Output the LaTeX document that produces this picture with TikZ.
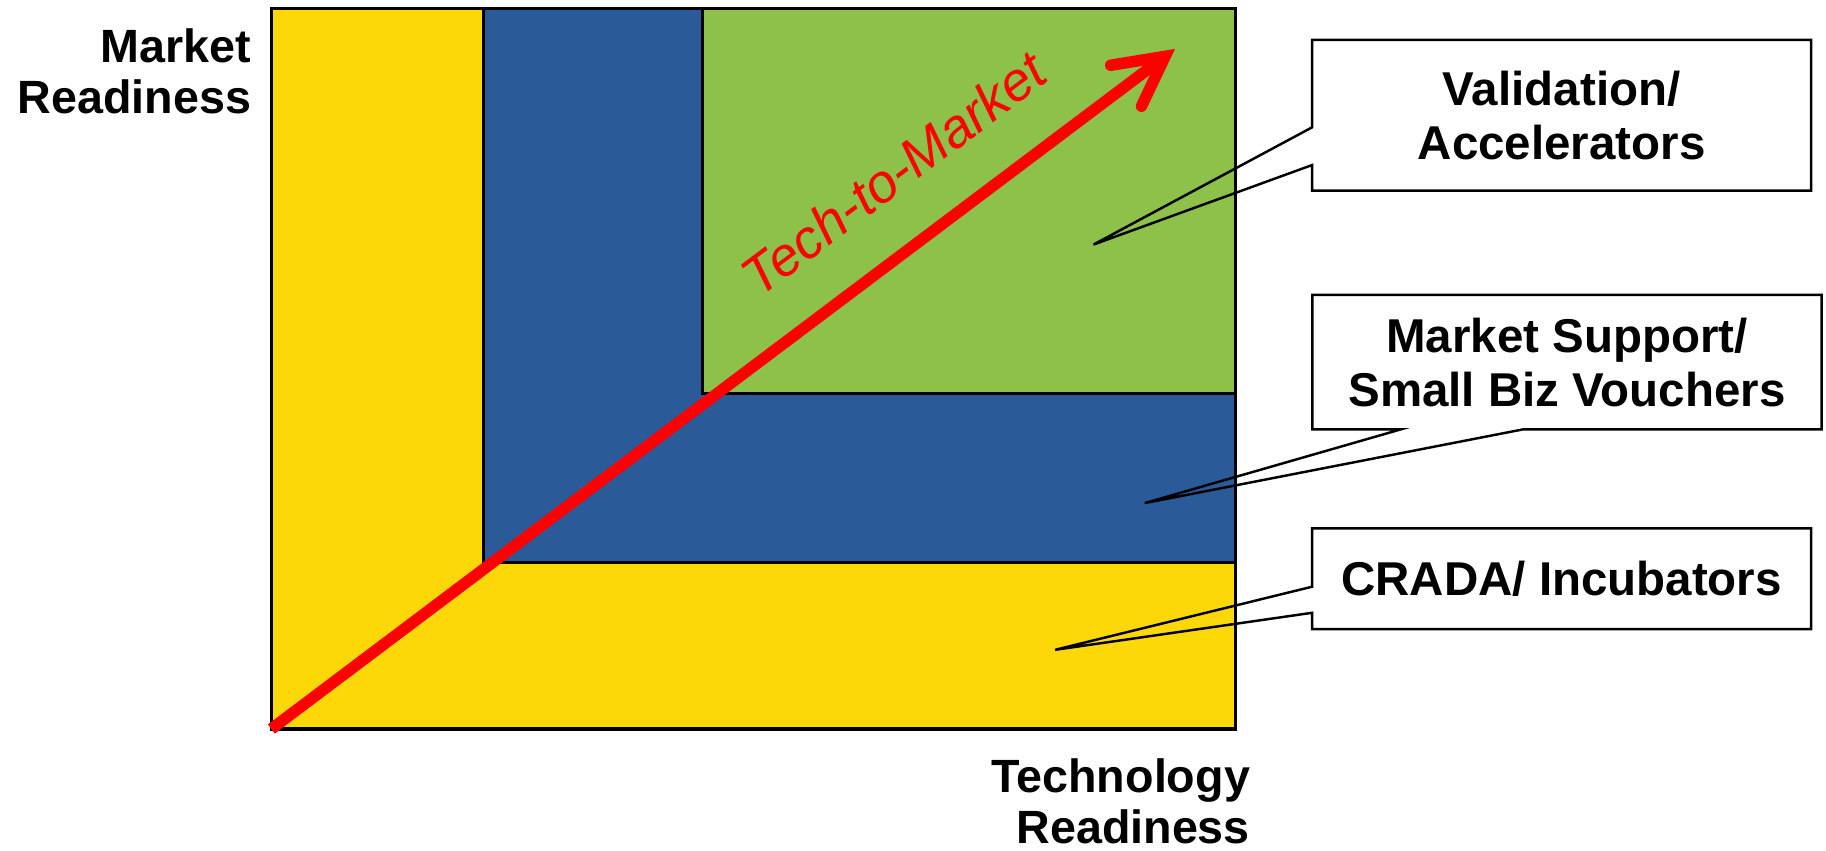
\documentclass[tikz,border=0pt]{standalone}
\usepackage{fontspec}
\setmainfont{Liberation Sans}
\usetikzlibrary{arrows.meta}

\definecolor{zoneyellow}{RGB}{253,216,8}
\definecolor{zoneblue}{RGB}{43,90,152}
\definecolor{zonegreen}{RGB}{141,193,74}

\begin{document}
\begin{tikzpicture}[x=0.1mm, y=-0.1mm,
        zone/.style = {draw=black, line width=0.8pt},
        axislabel/.style = {font=\fontsize{11.4}{12.5}\selectfont\bfseries,
                            align=right, inner sep=0pt, anchor=east},
        calloutbox/.style = {minimum width=42.7mm, inner sep=0pt, align=center,
                             font=\fontsize{11.6}{13.2}\selectfont\bfseries},
        callout/.style = {draw=black, line width=0.6pt},
        techarrow/.style = {draw=red, line width=2.8pt,
                            -{Straight Barb[length=4.2mm, width=4.4mm, line cap=round, line join=miter]}},
    ]
    \useasboundingbox (0,0) rectangle (1568,730);

    % readiness zones
    \coordinate (origin) at (233,626);
    \coordinate (corner) at (1061,7);
    \draw[zone, fill=zoneyellow] (origin) rectangle (corner);
    \draw[zone, fill=zoneblue] (415,483) rectangle (corner);
    \draw[zone, fill=zonegreen] (603,338) rectangle (corner);

    \coordinate (goal) at (1009,42);
    \draw[techarrow] (origin) -- (goal)
        node[pos=0.735, sloped, above=2.6mm, text=red,
             font=\fontsize{13.3}{15}\selectfont\itshape] (ttm) {Tech-to-Market};

    \node[axislabel] (mkt) at (216.5,61) {Market\\Readiness};
    \node[axislabel] (tech) at (1074,688) {Technology\\Readiness};

    % callouts
    \coordinate (valtip) at (939,210);
    \coordinate (msuptip) at (983,432);
    \coordinate (cradatip) at (906,558);

    \node[calloutbox, minimum height=12.8mm] (val) at (1341,99) {Validation/\\Accelerators};
    \draw[callout] (val.north west) -- (val.north east) -- (val.south east) -- (val.south west)
        -- ([yshift=2.2mm]val.south west) -- (valtip) -- ([yshift=-7.5mm]val.north west) -- cycle;

    \node[calloutbox, minimum width=43.6mm, minimum height=11.4mm] (msup) at (1345.6,311)
        {Market Support/\\Small Biz Vouchers};
    \draw[callout] (msup.south west) -- (msup.north west) -- (msup.north east) -- (msup.south east)
        -- ([xshift=18.1mm]msup.south west) -- (msuptip) -- ([xshift=7.6mm]msup.south west) -- cycle;

    \node[calloutbox, minimum height=8.5mm] (crada) at (1341,497) {CRADA/ Incubators};
    \draw[callout] (crada.north west) -- (crada.north east) -- (crada.south east) -- (crada.south west)
        -- ([yshift=1.4mm]crada.south west) -- (cradatip) -- ([yshift=-5mm]crada.north west) -- cycle;
\end{tikzpicture}
\end{document}
